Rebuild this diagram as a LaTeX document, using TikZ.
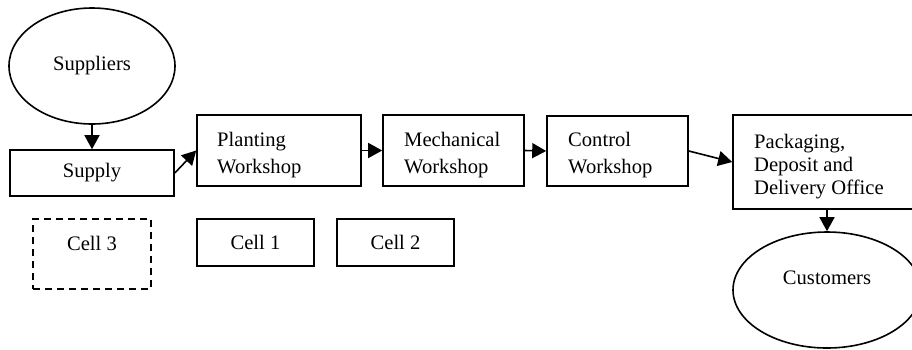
\documentclass[tikz,border=0pt]{standalone}
\usepackage{fontspec}
\setmainfont{Liberation Serif}
\usetikzlibrary{shapes.geometric,arrows.meta}
\begin{document}
\begin{tikzpicture}[x=1pt,y=-1pt,
  every node/.style={font=\fontsize{20.6}{24}\selectfont, inner sep=0pt},
  stage/.style={draw, line width=1.6pt, rectangle},
  party/.style={draw, line width=1.6pt, ellipse},
  txt/.style={align=left, anchor=west},
  flow/.style={line width=1.6pt, -{Triangle[length=14pt,width=15pt]}}]
  \useasboundingbox (0,0) rectangle (912,349);

  % external parties
  \node[party, minimum width=166pt, minimum height=116pt] (sup) at (92,66) {Suppliers};
  \node[party, minimum width=188pt, minimum height=116pt] (cust) at (827,290) {};
  \node (custtxt) at (827,278) {Customers};

  % process stages
  \node[stage, minimum width=164pt, minimum height=46pt] (supply) at (92,173) {Supply};
  \node[stage, minimum width=164pt, minimum height=71pt] (plant) at (279,150.5) {};
  \node[txt, font=\fontsize{20.6}{27}\selectfont] (planttxt) at (217,155) {Planting\\Workshop};
  \node[stage, minimum width=141pt, minimum height=71pt] (mech) at (453.5,150.5) {};
  \node[txt, font=\fontsize{20.6}{27}\selectfont] (mechtxt) at (404,155) {Mechanical\\Workshop};
  \node[stage, minimum width=141pt, minimum height=70pt] (ctrl) at (617.5,151) {};
  \node[txt, font=\fontsize{20.6}{27}\selectfont] (ctrltxt) at (568,155) {Control\\Workshop};
  \node[stage, minimum width=188pt, minimum height=94pt] (pack) at (827,162) {};
  \node[txt, font=\fontsize{20.6}{23}\selectfont] (packtxt) at (754,166.5) {Packaging,\\Deposit and\\Delivery Office};

  % cells
  \node[stage, dashed, dash pattern=on 7pt off 5pt, minimum width=118pt, minimum height=70pt] (cell3) at (92,254) {};
  \node (cell3txt) at (92,243.5) {Cell 3};
  \node[stage, minimum width=117pt, minimum height=47pt] (cell1) at (255.5,242.5) {Cell 1};
  \node[stage, minimum width=117pt, minimum height=47pt] (cell2) at (395.5,242.5) {Cell 2};

  % material flow
  \draw[flow] (sup.south) -- (supply.north);
  \draw[flow] (supply.east) -- (plant.west);
  \draw[flow] (plant.east) -- (mech.west);
  \draw[flow] (mech.east) -- (ctrl.west);
  \draw[flow] (ctrl.east) -- (pack.west);
  \draw[flow] (pack.south) -- (cust.north);
\end{tikzpicture}
\end{document}
